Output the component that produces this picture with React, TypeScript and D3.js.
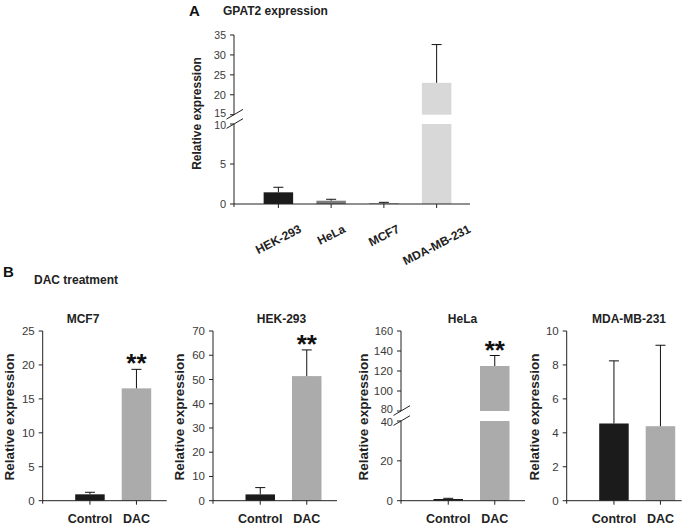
import React from "react";
import * as d3 from "d3";

// ---------- Panel A data ----------
const aCategories = ["HEK-293", "HeLa", "MCF7", "MDA-MB-231"];
const aValues = [1.46, 0.41, 0.09, 23.0];
const aErrors = [0.63, 0.18, 0.12, 9.6];
const aTicksLower = [0, 5, 10];
const aTicksUpper = [15, 20, 25, 30, 35];

// ---------- Panel B data ----------
const bPanels = ["MCF7", "HEK-293", "HeLa", "MDA-MB-231"];
const bGroups = ["Control", "DAC"];
const bControl = [0.94, 2.6, 0.85, 4.55];
const bDAC = [16.55, 51.4, 125, 4.39];
const bControlErr = [0.3, 2.8, 0.35, 3.69];
const bDACErr = [2.8, 10.8, 10.5, 4.77];
const bSignificance = ["**", "**", "**", ""];
const bTicksMCF7 = [0, 5, 10, 15, 20, 25];
const bTicksHEK = [0, 10, 20, 30, 40, 50, 60, 70];
const bTicksHeLaLower = [0, 20, 40];
const bTicksHeLaUpper = [80, 100, 120, 140, 160];
const bTicksMDA = [0, 2, 4, 6, 8, 10];

const FONT = "'Liberation Sans', Arial, Helvetica, sans-serif";

type Segment = { scale: d3.ScaleLinear<number, number>; ticks: number[] };

function measure(text: string, font: string): number {
  const c = document.createElement("canvas").getContext("2d");
  if (!c) return text.length * 7;
  c.font = font;
  return c.measureText(text).width;
}

function yOf(segs: Segment[], v: number): number {
  for (const s of segs) {
    const [d0, d1] = s.scale.domain();
    if (v >= d0 && v <= d1) return s.scale(v);
  }
  return segs[segs.length - 1].scale(v);
}

function BrokenYAxis({ x0, segs, fontSize }: { x0: number; segs: Segment[]; fontSize: number }) {
  const els: React.ReactNode[] = [];
  const n = segs.length;
  segs.forEach((s, i) => {
    const [r0, r1] = s.scale.range();
    els.push(<line key={"ax" + i} x1={x0} x2={x0} y1={r0 + (i === 0 ? 3 : 0)} y2={r1} stroke="#222" strokeWidth={1} />);
    const [d0, d1] = s.scale.domain();
    s.ticks.forEach((t) => {
      const y = s.scale(t);
      // nudge labels adjacent to a break apart
      let nudge = 0;
      if (n > 1 && i < n - 1 && t === d1) nudge = 1.5;
      if (n > 1 && i > 0 && t === d0) nudge = -1.5;
      els.push(<line key={`t${i}-${t}`} x1={x0 - 4} x2={x0} y1={y} y2={y} stroke="#222" strokeWidth={1} />);
      els.push(
        <text key={`l${i}-${t}`} x={x0 - 8} y={y + nudge} dy="0.35em" textAnchor="end" fontSize={n > 1 && (t === d1 || t === d0) && t !== 0 ? fontSize - 0.5 : fontSize} fill="#3a3a3a" fontFamily={FONT}>
          {t}
        </text>
      );
    });
    if (i > 0) {
      const yLow = segs[i - 1].scale.range()[1];
      const yHigh = r0;
      [yLow, yHigh].forEach((yy, k) => {
        els.push(
          <line key={`br${i}-${k}`} x1={x0 - 7.5} y1={yy + 4.4} x2={x0 + 9} y2={yy - 5.3} stroke="#222" strokeWidth={1} />
        );
      });
    }
  });
  return <g>{els}</g>;
}

function Bar({ cx, w, value, err, segs, fill }: { cx: number; w: number; value: number; err: number; segs: Segment[]; fill: string }) {
  const rects: React.ReactNode[] = [];
  segs.forEach((s, i) => {
    const [d0, d1] = s.scale.domain();
    if (value > d0) {
      const top = s.scale(Math.min(value, d1));
      const bot = s.scale(d0);
      rects.push(<rect key={i} x={cx - w / 2} y={top} width={w} height={bot - top} fill={fill} />);
    }
  });
  const yv = yOf(segs, value);
  const ye = yOf(segs, value + err);
  return (
    <g>
      {rects}
      <line x1={cx} x2={cx} y1={yv} y2={ye} stroke="#111" strokeWidth={1} />
      <line x1={cx - 5} x2={cx + 5} y1={ye} y2={ye} stroke="#111" strokeWidth={1} />
    </g>
  );
}

function PanelA() {
  const x0 = 234;
  const yBase = 204;
  const segs: Segment[] = [
    { scale: d3.scaleLinear().domain([0, 10]).range([yBase, 124]), ticks: aTicksLower },
    { scale: d3.scaleLinear().domain([15, 35]).range([114.7, 35]), ticks: aTicksUpper },
  ];
  const xs = d3.scaleBand<string>().domain(aCategories).range([252, 463]);
  const colors = ["#1b1b1b", "#7d7d7d", "#8a8a8a", "#d8d8d8"];
  const labFont = `bold 12px ${FONT}`;
  const ang = 27;
  const rad = (ang * Math.PI) / 180;
  return (
    <g>
      <text x={189} y={16} fontSize={15} fontWeight="bold" fontFamily={FONT} fill="#111">A</text>
      <text x={223} y={15} fontSize={12} fontWeight="bold" fontFamily={FONT} fill="#222">GPAT2 expression</text>
      <text transform={`translate(200.5,113.5) rotate(-90)`} textAnchor="middle" fontSize={12} fontWeight="bold" fontFamily={FONT} fill="#222">
        Relative expression
      </text>
      {aCategories.map((c, i) => (
        <Bar key={c} cx={(xs(c) as number) + xs.bandwidth() / 2} w={29.5} value={aValues[i]} err={aErrors[i]} segs={segs} fill={colors[i]} />
      ))}
      <BrokenYAxis x0={x0} segs={segs} fontSize={11} />
      <line x1={x0} x2={470} y1={yBase} y2={yBase} stroke="#222" strokeWidth={1} />
      {aCategories.map((c) => {
        const cx = (xs(c) as number) + xs.bandwidth() / 2;
        const L = measure(c, labFont);
        const cy = 224 + (L * Math.sin(rad) + 9 * Math.cos(rad)) / 2;
        return (
          <g key={c}>
            <line x1={cx} x2={cx} y1={yBase} y2={yBase + 4} stroke="#222" />
            <text transform={`translate(${cx},${cy}) rotate(${-ang})`} textAnchor="middle" dy="0.35em" fontSize={12} fontWeight="bold" fontFamily={FONT} fill="#222">
              {c}
            </text>
          </g>
        );
      })}
    </g>
  );
}

function PanelB() {
  const yTop = 331;
  const yBase = 500.7;
  const axisX = [42.7, 213, 401, 566.7];
  const axisLen = [124, 124, 124, 115];
  const labelOff = [29, 29, 33, 27.5];
  const titleX = [83, 281.5, 462.5, 629];
  const segsList: Segment[][] = [
    [{ scale: d3.scaleLinear().domain([0, 25]).range([yBase, yTop]), ticks: bTicksMCF7 }],
    [{ scale: d3.scaleLinear().domain([0, 70]).range([yBase, yTop]), ticks: bTicksHEK }],
    [
      { scale: d3.scaleLinear().domain([0, 40]).range([yBase, 421]), ticks: bTicksHeLaLower },
      { scale: d3.scaleLinear().domain([80, 160]).range([411, yTop]), ticks: bTicksHeLaUpper },
    ],
    [{ scale: d3.scaleLinear().domain([0, 10]).range([yBase, yTop]), ticks: bTicksMDA }],
  ];
  const groupColors = ["#1b1b1b", "#ababab"];
  return (
    <g>
      <text x={3} y={277} fontSize={15} fontWeight="bold" fontFamily={FONT} fill="#111">B</text>
      <text x={34} y={284} fontSize={12} fontWeight="bold" fontFamily={FONT} fill="#222">DAC treatment</text>
      {bPanels.map((p, pi) => {
        const x0 = axisX[pi];
        const segs = segsList[pi];
        const xs = d3.scaleBand<string>().domain(bGroups).range([x0 + 24, x0 + 117]);
        const vals = [bControl[pi], bDAC[pi]];
        const errs = [bControlErr[pi], bDACErr[pi]];
        const dacCx = (xs("DAC") as number) + xs.bandwidth() / 2;
        const errTop = yOf(segs, bDAC[pi] + bDACErr[pi]);
        return (
          <g key={p}>
            <text x={titleX[pi]} y={323} textAnchor="middle" fontSize={12} fontWeight="bold" fontFamily={FONT} fill="#222">{p}</text>
            <text transform={`translate(${x0 - labelOff[pi]},417) rotate(-90)`} textAnchor="middle" fontSize={13.5} fontWeight="bold" fontFamily={FONT} fill="#222">
              Relative expression
            </text>
            {bGroups.map((g, gi) => (
              <Bar key={g} cx={(xs(g) as number) + xs.bandwidth() / 2} w={29.5} value={vals[gi]} err={errs[gi]} segs={segs} fill={groupColors[gi]} />
            ))}
            <BrokenYAxis x0={x0} segs={segs} fontSize={11.5} />
            <line x1={x0} x2={x0 + axisLen[pi]} y1={yBase} y2={yBase} stroke="#222" strokeWidth={1} />
            {bGroups.map((g) => {
              const cx = (xs(g) as number) + xs.bandwidth() / 2;
              return (
                <g key={g}>
                  <line x1={cx} x2={cx} y1={yBase} y2={yBase + 4} stroke="#222" />
                  <text x={cx} y={523.3} textAnchor="middle" fontSize={12.5} fontWeight="bold" fontFamily={FONT} fill="#222">{g}</text>
                </g>
              );
            })}
            {bSignificance[pi] && (
              <text x={dacCx} y={errTop + 3} textAnchor="middle" fontSize={26} fontWeight="bold" fontFamily={FONT} fill="#111">
                {bSignificance[pi]}
              </text>
            )}
          </g>
        );
      })}
    </g>
  );
}

export default function App() {
  return (
    <svg width={689} height={528} style={{ position: "absolute", left: 0, top: 0, background: "#fff" }}>
      <rect width={689} height={528} fill="#fff" />
      <PanelA />
      <PanelB />
    </svg>
  );
}
